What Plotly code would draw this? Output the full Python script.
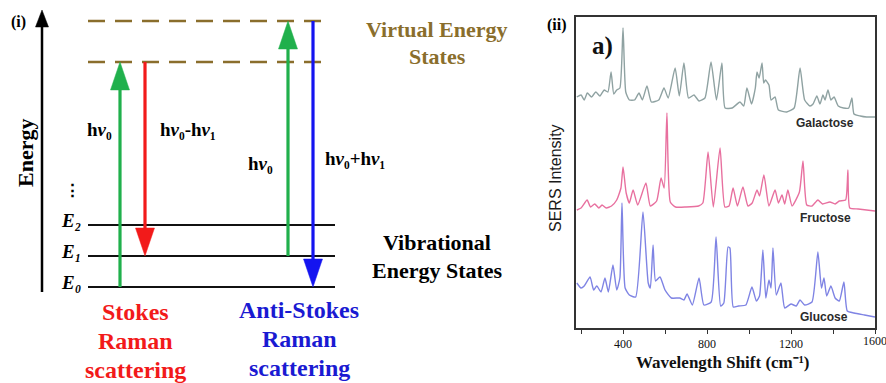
import plotly.graph_objects as go

# ---------------- Data: SERS spectra (Raman shift in cm-1, intensity in a.u. incl. stacking offset) ----------------
galactose_shift = [180, 200, 215, 230, 250, 270, 290, 310, 328, 343, 356, 370, 385, 400, 413, 430, 455, 476, 492,
                   514, 535, 570, 595, 615, 648, 668, 690, 712, 738, 762, 790, 819, 845, 871, 886, 920, 957, 975,
                   990, 1012, 1030, 1038, 1048, 1062, 1070, 1078, 1095, 1105, 1124, 1140, 1180, 1215, 1243, 1265,
                   1290, 1305, 1323, 1338, 1352, 1362, 1376, 1390, 1405, 1425, 1450, 1475, 1490, 1500, 1530, 1560, 1600]
galactose_int = [231, 233, 228, 235, 231, 236, 232, 238, 236, 256, 234, 238, 240, 300, 236, 228, 228, 235, 228,
                 242, 226, 228, 240, 230, 260, 232, 265, 230, 233, 227, 230, 266, 228, 265, 220, 220, 226, 222,
                 240, 224, 240, 256, 250, 265, 245, 248, 243, 228, 231, 218, 216, 220, 260, 228,
                 222, 224, 232, 224, 233, 228, 238, 228, 231, 222, 220, 220, 230, 214, 212, 211, 211]

fructose_shift = [180, 200, 229, 245, 265, 285, 300, 320, 345, 370, 390, 400, 415, 430, 448, 470, 509, 530, 560,
                  581, 596, 609, 625, 650, 700, 760, 780, 805, 830, 862, 885, 905, 924, 945, 971, 995, 1015, 1038,
                  1050, 1071, 1095, 1124, 1140, 1157, 1170, 1185, 1205, 1240, 1257, 1275, 1300, 1328, 1350, 1385,
                  1410, 1430, 1460, 1471, 1480, 1520, 1600]
fructose_int = [118, 120, 128, 121, 124, 120, 123, 120, 122, 128, 140, 161, 135, 125, 138, 123, 145, 122, 127,
                150, 140, 215, 126, 121, 121, 122, 125, 176, 121, 180, 121, 122, 140, 122, 141, 122, 125, 138,
                132, 153, 122, 138, 125, 133, 124, 138, 122, 136, 167, 123, 122, 128, 124, 126,
                124, 127, 128, 158, 120, 119, 117]

glucose_shift = [180, 200, 215, 243, 260, 275, 295, 314, 330, 352, 370, 385, 395, 410, 430, 460, 495, 520, 530,
                 543, 555, 576, 600, 630, 670, 690, 705, 730, 762, 785, 820, 843, 865, 880, 900, 909, 925, 950,
                 985, 1014, 1035, 1050, 1066, 1080, 1095, 1105, 1114, 1130, 1152, 1170, 1200, 1225, 1243, 1265,
                 1300, 1328, 1345, 1357, 1370, 1390, 1410, 1430, 1452, 1468, 1500, 1550, 1600]
glucose_int = [45, 40, 42, 51, 38, 42, 36, 50, 36, 63, 38, 50, 125, 40, 33, 31, 116, 45, 40,
               83, 47, 51, 38, 30, 30, 28, 34, 23, 50, 23, 26, 91, 22, 25, 81, 80, 21, 22,
               23, 41, 27, 32, 78, 30, 48, 40, 80, 33, 45, 20, 24, 22, 28, 23,
               26, 76, 40, 50, 32, 42, 30, 27, 46, 17, 15, 13, 11]

spectrum_names = ["Galactose", "Fructose", "Glucose"]
spectrum_label_shift = [1360, 1365, 1355]
spectrum_label_int = [205, 110, 11]

x_tick_values = [400, 800, 1200, 1600]
x_tick_labels = ["400", "800", "1200", "1600"]

# ---------------- Data: energy-level diagram (energies in units of vibrational spacing) ----------------
vib_levels = [0, 1, 2]
vib_level_labels = ["E₀", "E₁", "E₂"]
virtual_levels = [7.26, 8.58]
transition_from = [0, 7.26, 1, 8.58]
transition_to = [7.26, 1, 8.58, 0]

# ---------------- Styling / layout constants ----------------
W, H = 886, 383
GREEN, RED, BLUE = "#20b04c", "#f21a1a", "#1414f0"
OLIVE = "#8a6e2c"
SERIF = "Liberation Serif, Times New Roman, serif"
SANS = "Liberation Sans, Arial, sans-serif"
transition_colors = [GREEN, RED, GREEN, BLUE]
transition_x = [120, 145, 288, 313]
LEVEL_PX = 31.0          # px per level unit
E0_PX = 287.0            # pixel row of E0

fig = go.Figure()


def arrow(x, y0, y1, color, width, head_len, head_half):
    d = 1 if y1 > y0 else -1
    base = y1 - d * head_len
    fig.add_trace(go.Scatter(x=[x, x], y=[y0, base + d * 0.05], mode="lines",
                             line=dict(color=color, width=width), xaxis="x", yaxis="y",
                             hoverinfo="skip", showlegend=False))
    fig.add_trace(go.Scatter(x=[x - head_half, x + head_half, x, x - head_half],
                             y=[base, base, y1, base], mode="lines", fill="toself",
                             fillcolor=color, line=dict(color=color, width=0.5),
                             xaxis="x", yaxis="y", hoverinfo="skip", showlegend=False))


# vibrational levels
for lv in vib_levels:
    fig.add_trace(go.Scatter(x=[88, 335], y=[lv, lv], mode="lines",
                             line=dict(color="#111111", width=2.2), xaxis="x", yaxis="y",
                             hoverinfo="skip", showlegend=False))
# virtual levels
for lv in virtual_levels:
    fig.add_trace(go.Scatter(x=[88, 325], y=[lv, lv], mode="lines",
                             line=dict(color=OLIVE, width=2.6, dash="17px,10px"), xaxis="x", yaxis="y",
                             hoverinfo="skip", showlegend=False))

# energy axis arrow
arrow(42, -5.0 / LEVEL_PX, (E0_PX - 10) / LEVEL_PX, "#000000", 2.5, 17 / LEVEL_PX, 6.5)

# transitions
for x, a, b, c in zip(transition_x, transition_from, transition_to, transition_colors):
    arrow(x, a, b, c, 3.2, 28 / LEVEL_PX, 9.5)

# spectra
spec_colors = ["#8fa2a2", "#e8709f", "#7f84e4"]
for name, xs, ys, col in zip(spectrum_names,
                             [galactose_shift, fructose_shift, glucose_shift],
                             [galactose_int, fructose_int, glucose_int], spec_colors):
    fig.add_trace(go.Scatter(x=xs, y=ys, mode="lines", name=name,
                             line=dict(color=col, width=1.4, shape="spline", smoothing=0.5),
                             xaxis="x2", yaxis="y2", hoverinfo="skip", showlegend=False))

ann = []


def P(x, y):
    return x / W, 1 - y / H


def text(x, y, s, size, color="#000000", family=SERIF, angle=0):
    px, py = P(x, y)
    ann.append(dict(x=px, y=py, xref="paper", yref="paper", text=s, showarrow=False,
                    xanchor="center", yanchor="middle", textangle=angle,
                    font=dict(size=size, color=color, family=family)))


# left panel text
text(18, 22, "<b>(i)</b>", 16)
text(25, 153, "<b>Energy</b>", 22, angle=-90)
text(72, 190, "<b>⋮</b>", 17, family="DejaVu Serif")
for lv, lab in zip(vib_levels, vib_level_labels):
    ann.append(dict(x=71, y=lv + 0.15, xref="x", yref="y", text="<b><i>" + lab + "</i></b>",
                    showarrow=False, xanchor="center", yanchor="middle",
                    font=dict(size=19, color="#000000", family=SERIF)))
hv0 = "h<i>ν</i>₀"
hv1 = "h<i>ν</i>₁"
text(99, 130, "<b>" + hv0 + "</b>", 19)
text(188, 130, "<b>" + hv0 + "-" + hv1 + "</b>", 19)
text(260, 163, "<b>" + hv0 + "</b>", 19)
text(355, 158, "<b>" + hv0 + "+" + hv1 + "</b>", 19)
text(437, 30, "<b>Virtual Energy</b>", 22, OLIVE)
text(437, 56, "<b>States</b>", 22, OLIVE)
text(437, 243, "<b>Vibrational</b>", 22)
text(437, 270, "<b>Energy States</b>", 22)
for i, w in enumerate(["Stokes", "Raman", "scattering"]):
    text(135, 312 + 29 * i, "<b>" + w + "</b>", 24, RED)
for i, w in enumerate(["Anti-Stokes", "Raman", "scattering"]):
    text(299, 310 + 29 * i, "<b>" + w + "</b>", 24, "#1a1ad2")

# right panel text
text(557, 25, "<b>(ii)</b>", 16)
text(602, 46, "<b>a)</b>", 25, "#111111")
text(555, 178, "SERS Intensity", 16, "#1a1a1a", SANS, angle=-90)
text(723, 362, "<b>Wavelength Shift (cm⁻¹)</b>", 17, "#111111")
for name, xs, ys in zip(spectrum_names, spectrum_label_shift, spectrum_label_int):
    ann.append(dict(x=xs, y=ys, xref="x2", yref="y2", text="<b>" + name + "</b>", showarrow=False,
                    xanchor="center", yanchor="middle",
                    font=dict(size=12, color="#2a2a2a", family=SANS)))
# last tick label sits on the frame edge and is cut by the image border, as in the original
ann.append(dict(x=x_tick_values[-1], y=0, xref="x2", yref="y2", text=x_tick_labels[-1],
                showarrow=False, xanchor="center", yanchor="top", yshift=-4,
                font=dict(family=SERIF, size=12, color="#111111")))

fig.update_layout(
    width=W, height=H, margin=dict(l=0, r=0, t=0, b=0),
    paper_bgcolor="white", plot_bgcolor="white", showlegend=False,
    xaxis=dict(domain=[0, 540 / W], range=[0, 540], visible=False, fixedrange=True),
    yaxis=dict(domain=[0, 1], range=[(E0_PX - H) / LEVEL_PX, E0_PX / LEVEL_PX], visible=False, fixedrange=True),
    xaxis2=dict(domain=[576 / W, 875 / W], range=[176, 1600], anchor="y2",
                tickvals=x_tick_values[:-1], ticktext=x_tick_labels[:-1], ticks="outside", ticklen=4,
                tickwidth=1.2, tickcolor="#333333", showgrid=False, zeroline=False,
                minor=dict(dtick=200, tick0=0, ticks="outside", ticklen=4, tickwidth=1.2,
                           tickcolor="#333333", showgrid=False),
                showline=True, linecolor="#333333", linewidth=1.8, mirror=True,
                tickfont=dict(family=SERIF, size=12, color="#111111")),
    yaxis2=dict(domain=[1 - 328 / H, 1 - 17 / H], range=[0, 311], anchor="x2",
                showticklabels=False, ticks="", showgrid=False, zeroline=False,
                showline=True, linecolor="#333333", linewidth=1.8, mirror=True),
    annotations=ann,
)

fig.write_html("out.html", config={"displayModeBar": False},
               post_script="document.body.style.margin='0';")
